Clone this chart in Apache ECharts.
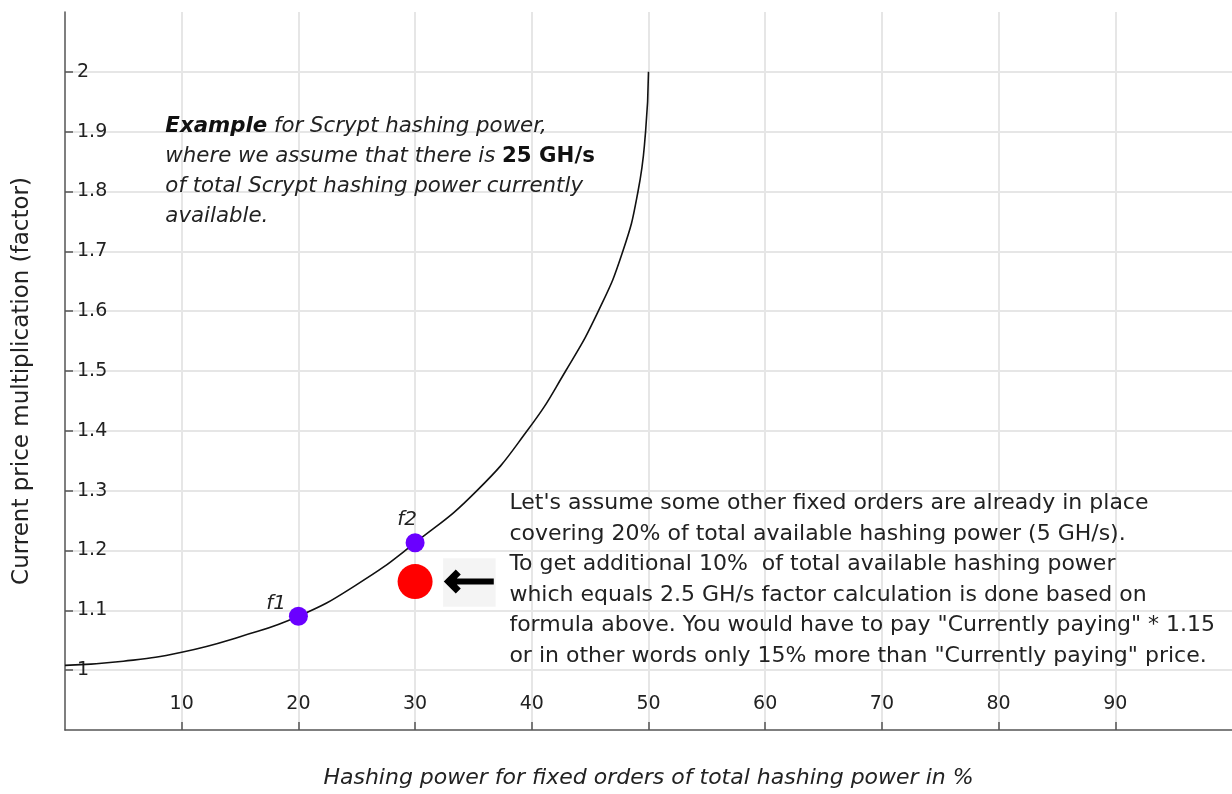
<!DOCTYPE html>
<html><head><meta charset="utf-8">
<script src="https://cdn.jsdelivr.net/npm/echarts@6/dist/echarts.min.js"></script>
<style>html,body{margin:0;padding:0;background:#fff}#c{width:1232px;height:794px}</style>
</head><body><div id="c"></div>
<script>
// ---- data ----
const curveX = [0, 5, 10, 15, 20, 25, 30, 35.3, 39.6, 42.9, 45.7, 47.8, 49.1, 49.75, 50];
const curveY = [1.008, 1.015, 1.03, 1.056, 1.09, 1.143, 1.213, 1.30, 1.4, 1.5, 1.6, 1.7, 1.8, 1.9, 2.0];
const pointNames = ['f1', 'f2'];
const pointX = [20, 30];
const pointY = [1.09, 1.213];
const resultX = [30];
const resultY = [1.148];
const arrowAt = [34.6, 1.148];
const arrowBox = [[32.4, 1.106], [36.9, 1.187]];
const xTitle = 'Hashing power for fixed orders of total hashing power in %';
const yTitle = 'Current price multiplication (factor)';
const note1Anchor = [8.6, 1.934];
const note2Anchor = [38.08, 1.304];
const note1 = '{b|Example} {i|for Scrypt hashing power,}\n{i|where we assume that there is }{bu|25 GH/s}\n{i|of total Scrypt hashing power currently}\n{i|available.}';
const note2 = "Let's assume some other fixed orders are already in place\ncovering 20% of total available hashing power (5 GH/s).\nTo get additional 10%  of total available hashing power\nwhich equals 2.5 GH/s factor calculation is done based on\nformula above. You would have to pay \"Currently paying\" * 1.15\nor in other words only 15% more than \"Currently paying\" price.";

const FONT = '"DejaVu Sans", "Open Sans", sans-serif';
const chart = echarts.init(document.getElementById('c'), null, {renderer: 'canvas'});

const curveData = curveX.map((x, i) => [x, curveY[i]]);
const pointData = pointX.map((x, i) => ({
  name: pointNames[i], value: [x, pointY[i]],
  label: i === 0 ? {position: 'left', offset: [2, -13]} : {position: 'top', offset: [-8, 2]}
}));
const resultData = resultX.map((x, i) => [x, resultY[i]]);

chart.setOption({
  animation: false,
  backgroundColor: '#fff',
  grid: {left: 65, right: -3, top: 12, bottom: 63, containLabel: false},
  xAxis: {
    type: 'value', min: 0, max: 100, interval: 10,
    name: xTitle, nameLocation: 'middle', nameGap: 37,
    nameTextStyle: {fontFamily: FONT, fontSize: 22, fontStyle: 'italic', color: '#222'},
    axisLine: {lineStyle: {color: '#555', width: 1.5}},
    axisTick: {inside: true, length: 8, lineStyle: {color: '#555', width: 1.5}},
    axisLabel: {inside: true, margin: 16, showMinLabel: false, showMaxLabel: false,
      fontFamily: FONT, fontSize: 19, color: '#222'},
    splitLine: {show: true, showMinLine: false, showMaxLine: false, lineStyle: {color: '#e6e6e6', width: 2}}
  },
  yAxis: {
    type: 'value', min: 0.9, max: 2.1, interval: 0.1,
    name: yTitle, nameLocation: 'middle', nameGap: 31, nameRotate: 90,
    nameTextStyle: {fontFamily: FONT, fontSize: 23, color: '#222', padding: [0, 20, 0, 0]},
    axisLine: {show: true, lineStyle: {color: '#555', width: 1.5}},
    axisTick: {show: true, inside: true, length: 8, lineStyle: {color: '#555', width: 1.5}},
    axisLabel: {inside: true, margin: 12, showMinLabel: false, showMaxLabel: false,
      fontFamily: FONT, fontSize: 19, color: '#222',
      formatter: v => String(Math.round(v * 10) / 10)},
    splitLine: {show: true, showMinLine: false, showMaxLine: false, lineStyle: {color: '#e6e6e6', width: 2}}
  },
  series: [
    {
      type: 'line', data: curveData, smooth: 0.5,
      showSymbol: false, lineStyle: {color: '#111', width: 1.6}, z: 3, silent: true
    },
    {
      type: 'scatter', data: pointData, symbolSize: 19, z: 4,
      itemStyle: {color: '#6a00ff', opacity: 1},
      label: {show: true, formatter: p => p.name, fontFamily: FONT, fontSize: 20,
        fontStyle: 'italic', color: '#222'}
    },
    {
      type: 'scatter', data: resultData, symbolSize: 35, z: 4,
      itemStyle: {color: '#ff0000', opacity: 1},
      markArea: {silent: true, itemStyle: {color: '#f4f4f4'},
        data: [[{coord: arrowBox[0]}, {coord: arrowBox[1]}]]},
      markPoint: {
        silent: true,
        symbol: 'path://M0 13 L12 1 L17 6 L13 10 L50 10 L50 16 L13 16 L17 20 L12 25 Z',
        symbolSize: [50, 24],
        itemStyle: {color: '#000', opacity: 1},
        label: {show: false},
        data: [{coord: arrowAt}]
      }
    }
  ]
});

function placeNotes() {
  const p1 = chart.convertToPixel({gridIndex: 0}, note1Anchor);
  const p2 = chart.convertToPixel({gridIndex: 0}, note2Anchor);
  const base = {fontFamily: FONT, fontSize: 21.3, lineHeight: 30};
  chart.setOption({
    graphic: [
      {type: 'text', x: p1[0], y: p1[1], z: 10,
        style: {text: note1, fill: '#222', fontFamily: FONT, fontSize: 21.3, lineHeight: 30,
          rich: {
            b: Object.assign({fontWeight: 'bold', fontStyle: 'italic', fill: '#111'}, base),
            i: Object.assign({fontStyle: 'italic', fill: '#222'}, base),
            bu: Object.assign({fontWeight: 'bold', fill: '#111'}, base)
          }}},
      {type: 'text', x: p2[0], y: p2[1], z: 10,
        style: {text: note2, fill: '#222', fontFamily: FONT, fontSize: 22, lineHeight: 30.5}}
    ]
  });
}
placeNotes();
</script>
</body></html>
